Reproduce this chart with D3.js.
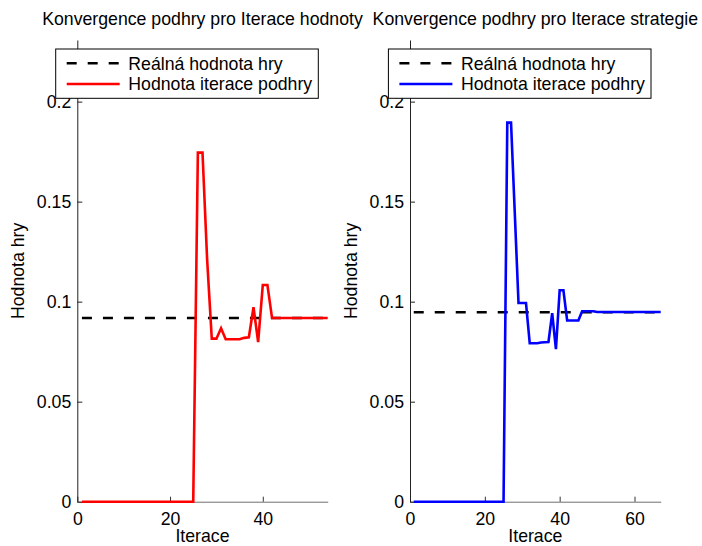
<!DOCTYPE html>
<html>
<head>
<meta charset="utf-8">
<script src="https://cdn.jsdelivr.net/npm/d3@7"></script>
<style>
  body { margin: 0; background: #fff; }
  text { font-family: "Liberation Sans", Arial, sans-serif; }
</style>
</head>
<body>
<div id="chart-container"></div>
<script>

// iterace 1..N, hodnoty
const valueIterValues = [
    0, 0, 0, 0, 0, 0, 0, 0, 0, 0,
    0, 0, 0, 0, 0, 0, 0, 0, 0, 0,
    0, 0, 0, 0, 0,
    0.1745, 0.1745, 0.121, 0.0815, 0.0815, 0.0867, 0.0812, 0.0812, 0.0812, 0.0812,
    0.0819, 0.0822, 0.0972, 0.0798, 0.1083, 0.1083,
    0.0918, 0.0918, 0.0918, 0.0918, 0.0918, 0.0918, 0.0918, 0.0918, 0.0918, 0.0918,
    0.0918, 0.0918, 0.0918
]
const strategyIterValues = [
    0, 0, 0, 0, 0, 0, 0, 0, 0, 0,
    0, 0, 0, 0, 0, 0, 0, 0, 0, 0,
    0, 0, 0, 0, 0,
    0.1895, 0.1895, 0.1445, 0.0993, 0.0993, 0.0993, 0.0792, 0.0792, 0.0792, 0.0796,
    0.0797, 0.0798, 0.0942, 0.0763, 0.1057, 0.1057, 0.0906, 0.0906, 0.0906, 0.0906,
    0.0952, 0.0952, 0.0952, 0.0952,
    0.0948, 0.0948, 0.0948, 0.0948, 0.0948, 0.0948, 0.0948, 0.0948, 0.0948, 0.0948,
    0.0948, 0.0948, 0.0948, 0.0948, 0.0948, 0.0948, 0.0948, 0.0948
]
const realValueLeft = 0.0918
const realValueRight = 0.0947

const xMaxLeft = 54
const xMaxRight = 67
const xTicksLeft = [0, 20, 40]
const xTicksRight = [0, 20, 40, 60]
const yTicks = [0, 0.05, 0.1, 0.15, 0.2]
const yTickLabels = ['0', '0.05', '0.1', '0.15', '0.2']
const yMax = 0.2308

const titles = ['Konvergence podhry pro Iterace hodnoty', 'Konvergence podhry pro Iterace strategie']
const legendLabels = ['Reálná hodnota hry', 'Hodnota iterace podhry']
const xLabel = 'Iterace'
const yLabel = 'Hodnota hry'

width = 702
height = 546
fontSize = 17.7

const svg = d3.select('#chart-container')
    .append('svg')
    .attr('width', width)
    .attr('height', height)

function drawPanel(left, right, values, realValue, xMax, xTicks, color, title) {
    let top = 40
    let bottom = 501.7

    let xScale = d3.scaleLinear()
        .domain([0, xMax])
        .range([left, right])

    let yScale = d3.scaleLinear()
        .domain([0, yMax])
        .range([bottom, top])

    let xAxis = d3.axisBottom(xScale)
        .tickValues(xTicks)
        .tickFormat(d3.format('d'))
        .tickSizeInner(-5)
        .tickSizeOuter(0)
        .tickPadding(6)

    let yAxis = d3.axisLeft(yScale)
        .tickValues(yTicks)
        .tickFormat((d, i) => yTickLabels[i])
        .tickSizeInner(-5)
        .tickSizeOuter(0)
        .tickPadding(6)

    let gx = svg.append('g')
        .attr('transform', 'translate(0, ' + bottom + ')')
        .call(xAxis)
    gx.select('.domain').attr('stroke', '#6e6e6e')
    gx.selectAll('.tick line').attr('stroke', '#333')
    gx.selectAll('.tick text')
        .attr('fill', '#000')
        .style('font-size', fontSize + 'px')
        .attr('y', 7)
        .attr('dy', '0.9em')

    let gy = svg.append('g')
        .attr('transform', 'translate(' + left + ', 0)')
        .call(yAxis)
    gy.select('.domain').attr('stroke', '#222')
    gy.selectAll('.tick line').attr('stroke', '#222')
    gy.selectAll('.tick text')
        .attr('fill', '#000')
        .style('font-size', fontSize + 'px')

    // skutecna hodnota - carkovana
    let line = d3.line()
        .x((d, i) => xScale(i + 1))
        .y(d => yScale(d))

    svg.append('path')
        .datum(values.map(() => realValue))
        .attr('d', line)
        .attr('fill', 'none')
        .attr('stroke', '#000')
        .attr('stroke-width', 2.6)
        .attr('stroke-dasharray', '10,11')

    svg.append('path')
        .datum(values)
        .attr('d', line)
        .attr('fill', 'none')
        .attr('stroke', color)
        .attr('stroke-width', 2.6)
        .attr('stroke-linejoin', 'miter')

    // titulky a popisky os
    svg.append('text')
        .attr('x', (left + right) / 2)
        .attr('y', 25)
        .attr('text-anchor', 'middle')
        .style('font-size', fontSize + 'px')
        .text(title)

    svg.append('text')
        .attr('x', (left + right) / 2)
        .attr('y', 542)
        .attr('text-anchor', 'middle')
        .style('font-size', fontSize + 'px')
        .text(xLabel)

    svg.append('text')
        .attr('transform', 'translate(' + (left - 53) + ', ' + ((top + bottom) / 2) + ') rotate(-90)')
        .attr('text-anchor', 'middle')
        .style('font-size', fontSize + 'px')
        .text(yLabel)

    // legenda
    let lx = left - 21.6
    let ly = 49
    let legend = svg.append('g')
        .attr('transform', 'translate(' + lx + ', ' + ly + ')')

    legend.append('rect')
        .attr('x', 0)
        .attr('y', 0)
        .attr('width', 262.6)
        .attr('height', 49.3)
        .attr('fill', '#fff')
        .attr('stroke', '#000')
        .attr('stroke-width', 1)

    legend.append('line')
        .attr('x1', 11).attr('x2', 64)
        .attr('y1', 14.3).attr('y2', 14.3)
        .attr('stroke', '#000')
        .attr('stroke-width', 2.6)
        .attr('stroke-dasharray', '10,11')

    legend.append('line')
        .attr('x1', 11).attr('x2', 64)
        .attr('y1', 35).attr('y2', 35)
        .attr('stroke', color)
        .attr('stroke-width', 2.6)

    legend.selectAll('text.lab')
        .data(legendLabels)
        .enter()
        .append('text')
        .attr('class', 'lab')
        .attr('x', 72.6)
        .attr('y', (d, i) => 14.3 + i * 20.7)
        .attr('dy', '0.36em')
        .style('font-size', fontSize + 'px')
        .text(d => d)
}

drawPanel(77.3, 327.7, valueIterValues, realValueLeft, xMaxLeft, xTicksLeft, '#ff0000', titles[0])
drawPanel(410, 660.7, strategyIterValues, realValueRight, xMaxRight, xTicksRight, '#0000ff', titles[1])

</script>
</body>
</html>
